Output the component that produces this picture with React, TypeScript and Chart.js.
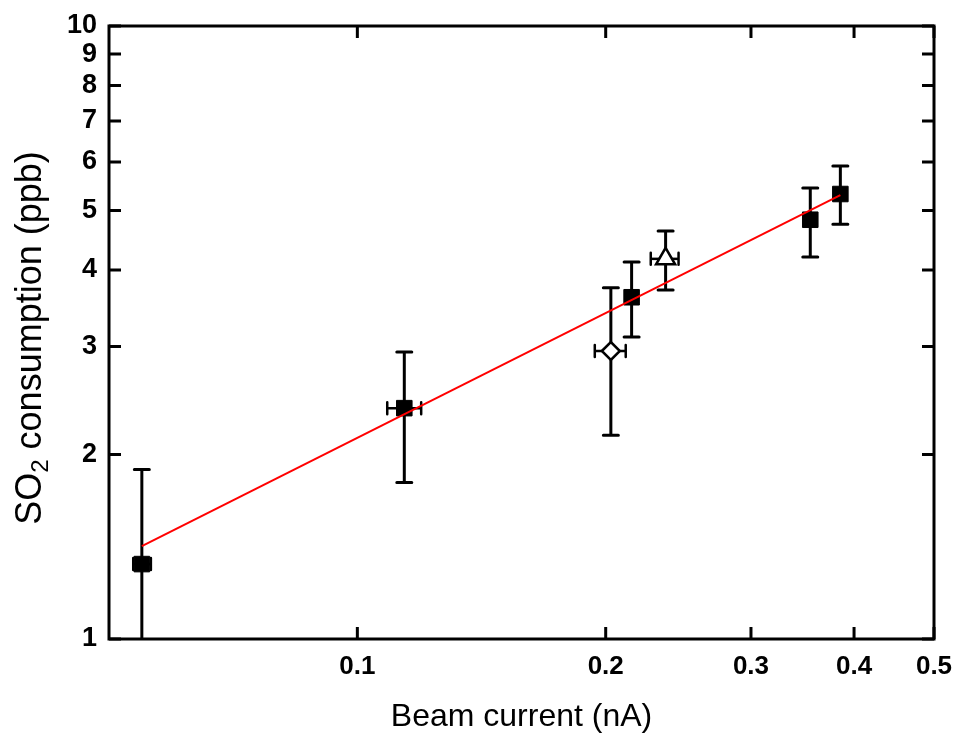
import { useEffect, useRef } from 'react';
import { Chart, registerables } from 'chart.js';
Chart.register(...registerables);

// ---- data ----
const xTickValues = [0.1, 0.2, 0.3, 0.4, 0.5];
const yTickValues = [1, 2, 3, 4, 5, 6, 7, 8, 9, 10];

// filled squares
const squareX = [0.0548, 0.114, 0.215, 0.354, 0.385];
const squareY = [1.325, 2.38, 3.61, 4.83, 5.32];
const squareYLow = [0.76, 1.8, 3.11, 4.2, 4.75];
const squareYHigh = [1.89, 2.94, 4.12, 5.44, 5.91];
const squareXLow = [0.0535, 0.1087, 0.215, 0.354, 0.385];
const squareXHigh = [0.0562, 0.1195, 0.215, 0.354, 0.385];

// open diamond
const diamondX = [0.2029];
const diamondY = [2.95];
const diamondYLow = [2.15];
const diamondYHigh = [3.74];
const diamondXLow = [0.194];
const diamondXHigh = [0.2115];

// open triangle
const triangleX = [0.2364];
const triangleY = [4.17];
const triangleYLow = [3.71];
const triangleYHigh = [4.63];
const triangleXLow = [0.2268];
const triangleXHigh = [0.2451];

// power-law fit
const fitX = [0.0548, 0.385];
const fitY = [1.418, 5.3];

const xTitle = 'Beam current (nA)';
const yTitleMain = 'SO';
const yTitleSub = '2';
const yTitleRest = ' consumption (ppb)';

const FONT = '"Liberation Sans", Arial, sans-serif';

type ErrSet = { x: number[]; y: number[]; yl: number[]; yh: number[]; xl: number[]; xh: number[] };
const errSets: ErrSet[] = [
  { x: squareX, y: squareY, yl: squareYLow, yh: squareYHigh, xl: squareXLow, xh: squareXHigh },
  { x: diamondX, y: diamondY, yl: diamondYLow, yh: diamondYHigh, xl: diamondXLow, xh: diamondXHigh },
  { x: triangleX, y: triangleY, yl: triangleYLow, yh: triangleYHigh, xl: triangleXLow, xh: triangleXHigh },
];

const zip = (xs: number[], ys: number[]) => xs.map((x, i) => ({ x, y: ys[i] }));

const errorBarPlugin = {
  id: 'errorBars',
  beforeDatasetsDraw(chart: any) {
    const { ctx, chartArea, scales } = chart;
    const xs = scales.x;
    const ys = scales.y;
    ctx.save();
    ctx.beginPath();
    ctx.rect(chartArea.left, chartArea.top, chartArea.right - chartArea.left, chartArea.bottom - chartArea.top);
    ctx.clip();
    ctx.strokeStyle = '#000';
    const cap = 7.5;
    for (const s of errSets) {
      for (let i = 0; i < s.x.length; i++) {
        const px = xs.getPixelForValue(s.x[i]);
        const py = ys.getPixelForValue(s.y[i]);
        const pyl = ys.getPixelForValue(s.yl[i]);
        const pyh = ys.getPixelForValue(s.yh[i]);
        ctx.lineWidth = 3;
        ctx.lineCap = 'butt';
        ctx.beginPath();
        ctx.moveTo(px, pyl);
        ctx.lineTo(px, pyh);
        ctx.stroke();
        ctx.lineCap = 'round';
        ctx.beginPath();
        ctx.moveTo(px - cap, pyl);
        ctx.lineTo(px + cap, pyl);
        ctx.moveTo(px - cap, pyh);
        ctx.lineTo(px + cap, pyh);
        ctx.stroke();
        if (s.xh[i] > s.xl[i]) {
          const pxl = xs.getPixelForValue(s.xl[i]);
          const pxh = xs.getPixelForValue(s.xh[i]);
          ctx.lineCap = 'butt';
          ctx.lineWidth = 2.5;
          ctx.beginPath();
          ctx.moveTo(pxl, py);
          ctx.lineTo(pxh, py);
          ctx.stroke();
          ctx.lineCap = 'round';
          ctx.beginPath();
          ctx.moveTo(pxl, py - 6);
          ctx.lineTo(pxl, py + 6);
          ctx.moveTo(pxh, py - 6);
          ctx.lineTo(pxh, py + 6);
          ctx.stroke();
        }
      }
    }
    ctx.restore();
  },
};

const framePlugin = {
  id: 'frame',
  afterDraw(chart: any) {
    const { ctx, chartArea, scales } = chart;
    const { left, right, top, bottom } = chartArea;
    const xs = scales.x;
    const ys = scales.y;
    const tl = 12;
    ctx.save();
    ctx.strokeStyle = '#000';
    ctx.lineWidth = 3;
    ctx.lineCap = 'butt';
    ctx.beginPath();
    for (const v of xTickValues) {
      const px = xs.getPixelForValue(v);
      ctx.moveTo(px, bottom);
      ctx.lineTo(px, bottom - tl);
      ctx.moveTo(px, top);
      ctx.lineTo(px, top + tl);
    }
    for (const v of yTickValues) {
      const py = ys.getPixelForValue(v);
      ctx.moveTo(left, py);
      ctx.lineTo(left + tl, py);
      ctx.moveTo(right, py);
      ctx.lineTo(right - tl, py);
    }
    ctx.stroke();
    ctx.lineJoin = 'miter';
    ctx.strokeRect(left, top, right - left, bottom - top);

    // titles
    ctx.fillStyle = '#000';
    ctx.font = `32px ${FONT}`;
    ctx.textAlign = 'center';
    ctx.textBaseline = 'middle';
    ctx.fillText(xTitle, (left + right) / 2, 717);

    const mainFont = `36px ${FONT}`;
    const subFont = `24px ${FONT}`;
    ctx.font = mainFont;
    const w1 = ctx.measureText(yTitleMain).width;
    const w3 = ctx.measureText(yTitleRest).width;
    ctx.font = subFont;
    const w2 = ctx.measureText(yTitleSub).width;
    const total = w1 + w2 + w3;
    ctx.translate(29, 338);
    ctx.rotate(-Math.PI / 2);
    ctx.textAlign = 'left';
    ctx.textBaseline = 'alphabetic';
    let cx = -total / 2;
    const base = 12;
    ctx.font = mainFont;
    ctx.fillText(yTitleMain, cx, base);
    cx += w1;
    ctx.font = subFont;
    ctx.fillText(yTitleSub, cx, base + 7);
    cx += w2;
    ctx.font = mainFont;
    ctx.fillText(yTitleRest, cx, base);
    ctx.restore();
  },
};

export default function App() {
  const ref = useRef<HTMLCanvasElement | null>(null);
  useEffect(() => {
    document.body.style.margin = '0';
    const canvas = ref.current;
    if (!canvas) return;
    const chart = new Chart(canvas, {
      type: 'scatter',
      data: {
        datasets: [
          {
            type: 'line',
            label: 'fit',
            data: zip(fitX, fitY),
            borderColor: '#ff0000',
            borderWidth: 2,
            pointRadius: 0,
            fill: false,
            order: 0,
          } as any,
          {
            label: 'squares',
            data: zip(squareX, squareY),
            pointStyle: 'rect',
            pointRadius: 11,
            backgroundColor: '#000',
            borderColor: '#000',
            borderWidth: 1,
            order: 1,
          },
          {
            label: 'diamond',
            data: zip(diamondX, diamondY),
            pointStyle: 'rectRot',
            pointRadius: 9,
            backgroundColor: '#fff',
            borderColor: '#000',
            borderWidth: 2.5,
            order: 1,
          },
          {
            label: 'triangle',
            data: zip(triangleX, triangleY),
            pointStyle: 'triangle',
            pointRadius: 11,
            backgroundColor: '#fff',
            borderColor: '#000',
            borderWidth: 2.5,
            order: 1,
          },
        ],
      },
      options: {
        animation: false,
        responsive: false,
        events: [],
        layout: { padding: { top: 26, right: 26, left: 0, bottom: 0 } },
        plugins: { legend: { display: false }, tooltip: { enabled: false } },
        scales: {
          x: {
            type: 'logarithmic',
            min: 0.05,
            max: 0.5,
            grid: { display: false, drawTicks: false },
            border: { display: false },
            afterBuildTicks: (scale: any) => {
              scale.ticks = xTickValues.map((v) => ({ value: v }));
            },
            afterFit: (scale: any) => {
              scale.height = 104;
              scale.paddingLeft = 0;
              scale.paddingRight = 0;
            },
            ticks: {
              autoSkip: false,
              maxRotation: 0,
              padding: 12,
              color: '#000',
              font: { family: FONT, size: 26, weight: 'bold' },
              callback: (v: any) => String(v),
            },
          },
          y: {
            type: 'logarithmic',
            min: 1,
            max: 10,
            grid: { display: false, drawTicks: false },
            border: { display: false },
            afterBuildTicks: (scale: any) => {
              scale.ticks = yTickValues.map((v) => ({ value: v }));
            },
            afterFit: (scale: any) => {
              scale.width = 109;
              scale.paddingTop = 0;
              scale.paddingBottom = 0;
            },
            ticks: {
              autoSkip: false,
              padding: 12,
              color: '#000',
              font: { family: FONT, size: 27, weight: 'bold' },
              callback: (v: any) => String(v),
            },
          },
        },
      },
      plugins: [errorBarPlugin, framePlugin],
    });
    return () => chart.destroy();
  }, []);
  return <canvas ref={ref} width={960} height={743} style={{ display: 'block' }} />;
}
